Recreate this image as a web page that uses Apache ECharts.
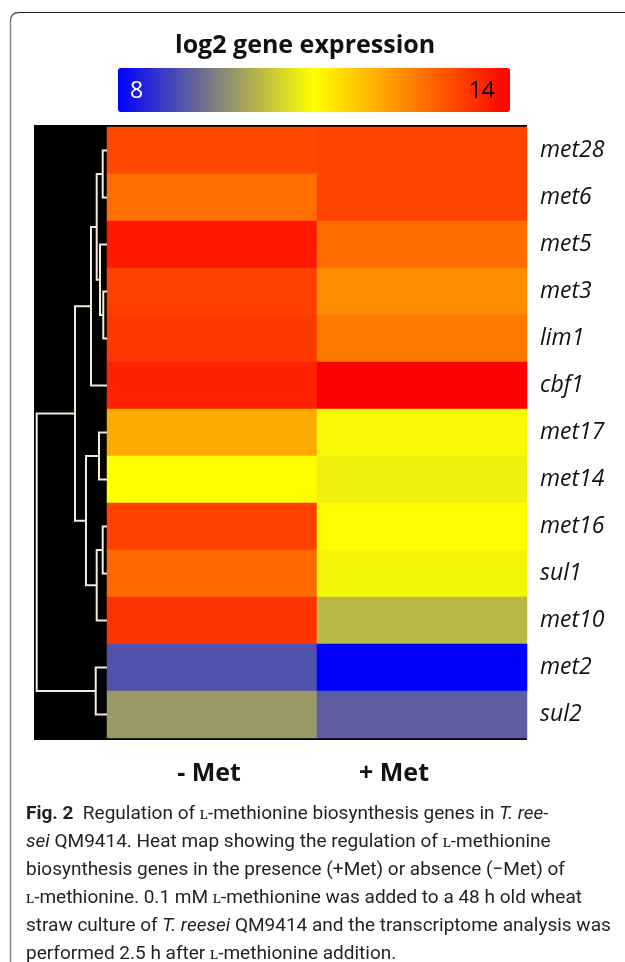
<!DOCTYPE html>
<html>
<head>
<meta charset="utf-8">
<script src="https://cdn.jsdelivr.net/npm/echarts@6/dist/echarts.min.js"></script>
<style>
html,body{margin:0;padding:0;background:#fff;}
#c{width:625px;height:962px;}
</style>
</head>
<body>
<div id="c"></div>
<script>
// ---- data ----
var genes = ['met28','met6','met5','met3','lim1','cbf1','met17','met14','met16','sul1','met10','met2','sul2'];
var conditions = ['- Met', '+ Met'];
var minusMet = [13.15, 12.68, 13.72, 13.25, 13.34, 13.6, 12.0, 11.0, 13.25, 12.75, 13.4, 8.95, 9.8];
var plusMet  = [13.2, 13.2, 12.73, 12.35, 12.59, 14.0, 10.92, 10.82, 11.05, 10.88, 10.16, 8.0, 9.1];
var colorbarLabels = ['8', '14'];
var colorMin = 8, colorMax = 14;
// dendrogram merges: [childA, childB, height]; leaves 0..12, merges numbered 13+
var dendroMerges = [
  [0, 1, 4.3],    // 13
  [3, 4, 3.7],    // 14
  [2, 14, 7],     // 15
  [13, 15, 10.3], // 16
  [16, 5, 16],    // 17
  [6, 7, 8],      // 18
  [8, 9, 4.3],    // 19
  [19, 10, 10.3], // 20
  [18, 20, 21],   // 21
  [17, 21, 32],   // 22
  [11, 12, 11.3], // 23
  [22, 23, 70.3]  // 24
];
var captionLines = [
  '{b|Fig. 2}  Regulation of ʟ-methionine biosynthesis genes in {i|T. ree-}',
  '{i|sei} QM9414. Heat map showing the regulation of ʟ-methionine',
  'biosynthesis genes in the presence (+Met) or absence (−Met) of',
  'ʟ-methionine. 0.1 mM ʟ-methionine was added to a 48 h old wheat',
  'straw culture of {i|T. reesei} QM9414 and the transcriptome analysis was',
  'performed 2.5 h after ʟ-methionine addition.'
];

// ---- build ----
var heatData = [];
for (var i = 0; i < genes.length; i++) {
  heatData.push([0, i, minusMet[i]]);
  heatData.push([1, i, plusMet[i]]);
}
var nLeaves = genes.length;
var nodePos = [], nodeH = [];
for (var i = 0; i < nLeaves; i++) { nodePos.push(i); nodeH.push(0); }
var dendroData = [];
dendroMerges.forEach(function (m) {
  var a = m[0], b = m[1], h = m[2];
  dendroData.push([nodeH[a], nodePos[a], h, nodePos[b], nodeH[b]]);
  nodePos.push((nodePos[a] + nodePos[b]) / 2);
  nodeH.push(h);
});

var capFont = 19;
var graphics = [
  {type:'rect', shape:{x:34, y:125, width:493, height:615}, style:{fill:'#000'}, z:-10},
  {type:'line', shape:{x1:625, y1:12.5, x2:19, y2:12.5}, style:{stroke:'#222', lineWidth:1.2}},
  {type:'bezierCurve', shape:{x1:19, y1:12.5, x2:10.5, y2:21, cpx1:10.5, cpy1:12.5}, style:{stroke:'#555', lineWidth:1.3, fill:null}},
  {type:'line', shape:{x1:10.5, y1:21, x2:10.5, y2:962}, style:{stroke:'#888', lineWidth:1.5}},
  {type:'text', x:130, y:91, style:{text:colorbarLabels[0], fill:'#fff', font:'23px "Open Sans"', verticalAlign:'middle', textAlign:'left'}, z:100},
  {type:'text', x:495, y:91, style:{text:colorbarLabels[1], fill:'#000', font:'23px "Open Sans"', verticalAlign:'middle', textAlign:'right'}, z:100}
];
captionLines.forEach(function (t, k) {
  graphics.push({type:'text', x:26, y:814 + k * 28, style:{
    text:t, fill:'#231f20', font:capFont + 'px Roboto', verticalAlign:'middle', textAlign:'left',
    rich:{b:{fontWeight:'bold', fontSize:capFont, fontFamily:'Roboto', fill:'#231f20'}, i:{fontStyle:'italic', fontSize:capFont, fontFamily:'Roboto', fill:'#231f20'}}
  }});
});

var chart = echarts.init(document.getElementById('c'), null, {renderer:'canvas'});
chart.setOption({
  animation:false,
  backgroundColor:'#fff',
  title:{text:'log2 gene expression', left:170, top:28,
    textStyle:{fontFamily:'Open Sans', fontWeight:'bold', fontSize:25, color:'#111'}},
  grid:[
    {left:107, top:127, width:420, height:611},
    {left:34, top:127, width:73, height:611}
  ],
  xAxis:[
    {type:'category', data:conditions, gridIndex:0, position:'bottom',
      axisLine:{show:false}, axisTick:{show:false}, splitLine:{show:false},
      axisLabel:{margin:23, color:'#111', fontFamily:'Open Sans', fontWeight:'bold', fontSize:25,
        formatter:function(v, idx){ return idx === 0 ? '{a|' + v + '}' : '{b|' + v + '}'; },
        rich:{a:{fontFamily:'Open Sans', fontWeight:'bold', fontSize:25, color:'#111', padding:[0,6,0,0]},
              b:{fontFamily:'Open Sans', fontWeight:'bold', fontSize:25, color:'#111', padding:[0,56,0,0]}}}},
    {type:'value', gridIndex:1, min:0, max:73, inverse:true, show:false}
  ],
  yAxis:[
    {type:'category', data:genes, gridIndex:0, inverse:true, position:'right',
      axisLine:{show:false}, axisTick:{show:false}, splitLine:{show:false},
      axisLabel:{margin:13, color:'#111', fontFamily:'Open Sans', fontStyle:'italic', fontSize:23}},
    {type:'value', gridIndex:1, min:-0.5, max:12.5, inverse:true, show:false}
  ],
  visualMap:{
    type:'continuous', min:colorMin, max:colorMax, seriesIndex:0,
    orient:'horizontal', left:103, top:53, itemWidth:44, itemHeight:392,
    calculable:false, showLabel:false, text:null, hoverLink:false,
    inRange:{color:['#0000ff','#ffff00','#ff0000']}
  },
  graphic:graphics,
  series:[
    {type:'heatmap', xAxisIndex:0, yAxisIndex:0, data:heatData, itemStyle:{borderWidth:0}, emphasis:{disabled:true}},
    {type:'custom', xAxisIndex:1, yAxisIndex:1, data:dendroData, silent:true,
      renderItem:function(params, api){
        var p1 = api.coord([api.value(0), api.value(1)]);
        var p2 = api.coord([api.value(2), api.value(1)]);
        var p3 = api.coord([api.value(2), api.value(3)]);
        var p4 = api.coord([api.value(4), api.value(3)]);
        return {type:'polyline', shape:{points:[p1,p2,p3,p4]},
          style:{stroke:'#f2eadb', lineWidth:2, fill:null}};
      }}
  ]
});
</script>
</body>
</html>
